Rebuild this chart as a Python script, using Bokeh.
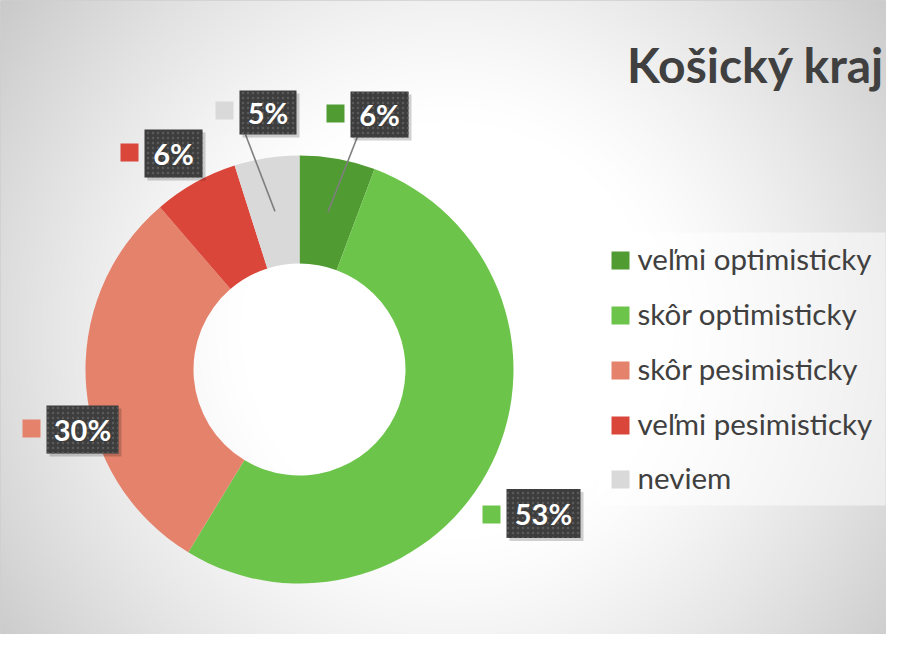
import numpy as np
from bokeh.plotting import figure
from bokeh.models import Range1d, ColumnDataSource
from bokeh.core.properties import value
from bokeh.embed import file_html
from bokeh.resources import INLINE

# ---- data ----
title = "Košický kraj"
categories = ["veľmi optimisticky", "skôr optimisticky", "skôr pesimisticky", "veľmi pesimisticky", "neviem"]
shares = [5.7, 53.0, 30.0, 6.4, 4.9]
colors = ["#509b32", "#6cc54a", "#e5826b", "#da463a", "#d9d9d9"]

W, H = 886, 634
def Y(yref):
    return H - np.asarray(yref, dtype=float)

p = figure(width=W, height=H, output_backend="svg", toolbar_location=None,
           x_range=Range1d(0, W), y_range=Range1d(0, H),
           min_border=0, outline_line_color="#cfcfcf", outline_line_width=1)
p.axis.visible = False
p.grid.visible = False
p.background_fill_color = "#ffffff"
p.border_fill_color = "#ffffff"

# ---- background radial gradient ----
xs = np.arange(W) + 0.5
ys_ref = (H - 0.5) - np.arange(H)  # row 0 at bottom
XX, YY = np.meshgrid(xs, ys_ref)
d = np.hypot(XX - 450, YY - 330)
v = 255 - 0.04 * np.maximum(0, d - 210) ** 1.23
v = np.clip(v, 0, 255).astype(np.uint32)
img = (255 << 24) | (v << 16) | (v << 8) | v
p.image_rgba(image=[img.astype(np.uint32)], x=0, y=0, dw=W, dh=H)

# ---- donut ----
cx, cy = 299, 369
r_in, r_out = 106, 214
vals = np.array(shares) / sum(shares)
cum = np.concatenate([[0], np.cumsum(vals)])
start = np.pi / 2 - 2 * np.pi * cum[:-1]
end = np.pi / 2 - 2 * np.pi * cum[1:]
src = ColumnDataSource(dict(start=start, end=end, color=colors))
p.annular_wedge(x=cx, y=Y(cy), inner_radius=r_in, outer_radius=r_out,
                start_angle="start", end_angle="end", direction="clock",
                fill_color="color", line_color=None, source=src)

# ---- data labels ----
labels = [f"{round(s)}%" for s in shares]
box_cx = [379, 543, 82, 173, 267.5]
box_cy = [114, 513, 429, 153, 112]
box_w = [58, 74, 72, 58, 57]
box_h = [46, 49, 48, 48, 44]
mk_x = [335, 491, 31, 129, 224]
mk_y = [113, 514, 428, 152, 110]

# leader lines for the small top slices
mid = np.pi / 2 - 2 * np.pi * (cum[:-1] + cum[1:]) / 2
rm = (r_in + r_out) / 2
lead_start = {0: (357, 136), 4: (245, 134)}
for i, (sx, sy) in lead_start.items():
    ex = cx + rm * np.cos(mid[i])
    ey = Y(cy) + rm * np.sin(mid[i])
    p.line(x=[sx, ex], y=[Y(sy), ey], line_color="#7f7f7f", line_width=1.6)

# shadows
p.rect(x=[x + 3 for x in box_cx], y=Y([y + 3 for y in box_cy]), width=box_w, height=box_h,
       fill_color="#000000", fill_alpha=0.18, line_color=None)
p.rect(x=box_cx, y=Y(box_cy), width=box_w, height=box_h,
       fill_color="#3d3d3d", line_color=None,
       hatch_pattern="dot", hatch_color="#5a5a5a", hatch_scale=5, hatch_weight=1.6)
p.text(x=box_cx, y=Y(box_cy), text=labels, text_color="white",
       text_font=value("Lato"), text_font_style="bold", text_font_size="29px",
       text_align="center", text_baseline="middle")
p.rect(x=mk_x, y=Y(mk_y), width=18, height=18, fill_color=colors, line_color=None)

# ---- legend ----
p.rect(x=(596 + 885) / 2, y=Y((232 + 505) / 2), width=885 - 596, height=505 - 232,
       fill_color="#ffffff", fill_alpha=0.5, line_color=None)
leg_y = [260, 315, 370, 425, 479]
p.rect(x=[620] * 5, y=Y(leg_y), width=18, height=18, fill_color=colors, line_color=None)
p.text(x=[637] * 5, y=Y([yy - 2 for yy in leg_y]), text=categories, text_color="#404040",
       text_font=value("Lato"), text_font_size="29.5px",
       text_align="left", text_baseline="middle")

# ---- title ----
p.text(x=[884], y=Y([64]), text=[title], text_color="#404040",
       text_font=value("Lato"), text_font_style="bold", text_font_size="48px",
       text_align="right", text_baseline="alphabetic")

open("out.html", "w").write(file_html(p, INLINE))
